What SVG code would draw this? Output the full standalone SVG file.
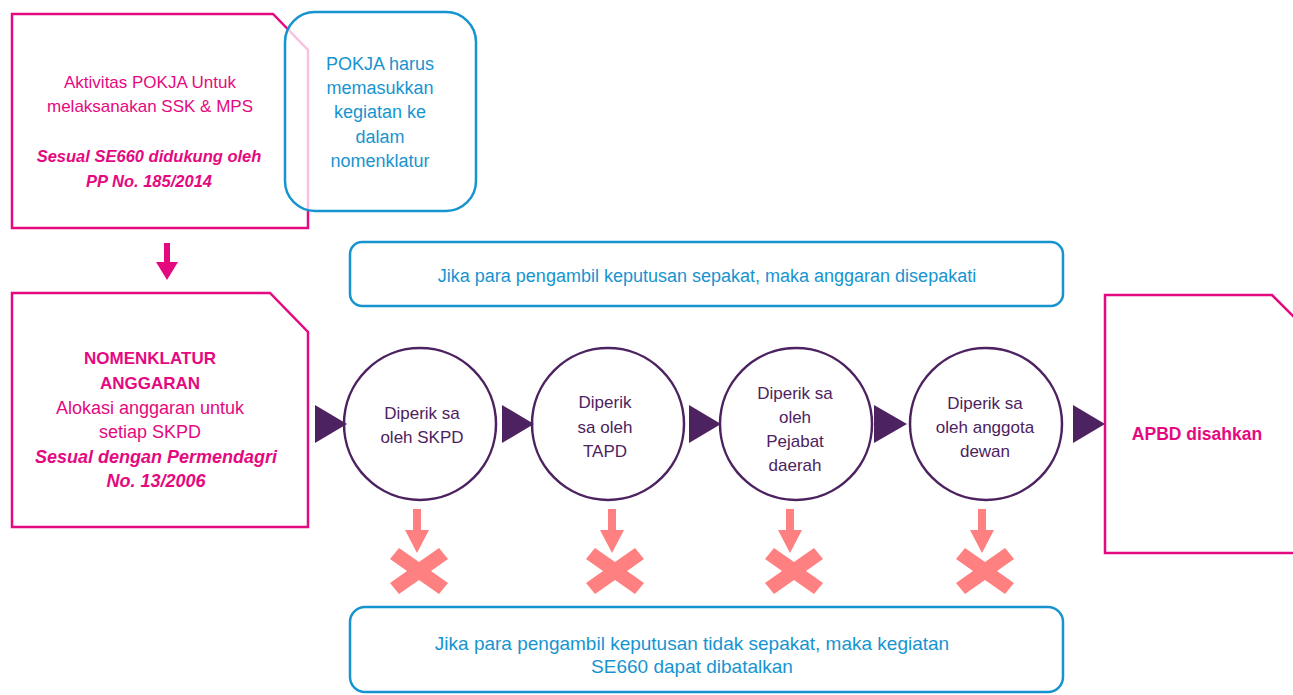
<svg xmlns="http://www.w3.org/2000/svg" width="1293" height="695" viewBox="0 0 1293 695">
<style>
text{font-family:"Liberation Sans",Arial,sans-serif;font-size:17px;text-anchor:middle;dominant-baseline:central}
.pk{fill:#E4097F}
.bl{fill:#1794D0;font-size:18px}
.pu{fill:#4D2260}
.b{font-weight:bold}
.bi{font-weight:bold;font-style:italic}
.pbox{fill:#fff;stroke:#E4097F;stroke-width:2.5}
.bbox{fill:#fff;stroke:#1794D0;stroke-width:2.5}
.circ{fill:#fff;stroke:#4D2260;stroke-width:2.5}
.tri{fill:#4D2260}
.sal{fill:#FF8080}
</style>
<g id="node-aktivitas">
<path class="pbox" d="M12,14 H273 L308,50 V228 H12 Z"/>
<text class="pk" x="150" y="82">Aktivitas POKJA Untuk</text>
<text class="pk" x="150" y="106">melaksanakan SSK &amp; MPS</text>
<text class="pk bi" x="149" y="156" style="font-size:16.5px">Sesual SE660 didukung oleh</text>
<text class="pk bi" x="149" y="181" style="font-size:16.5px">PP No. 185/2014</text>
</g>
<g id="node-pokja">
<rect class="bbox" x="285" y="12" width="191" height="199" rx="30" style="fill-opacity:0.75"/>
<text class="bl" x="380" y="64">POKJA harus</text>
<text class="bl" x="380" y="88">memasukkan</text>
<text class="bl" x="380" y="112">kegiatan ke</text>
<text class="bl" x="380" y="137">dalam</text>
<text class="bl" x="380" y="161">nomenklatur</text>
</g>
<g id="node-nomenklatur">
<path class="pbox" d="M12,293 H270 L308,332 V527 H12 Z"/>
<text class="pk b" x="150" y="358">NOMENKLATUR</text>
<text class="pk b" x="150" y="383">ANGGARAN</text>
<text class="pk" x="150" y="408" style="font-size:18px">Alokasi anggaran untuk</text>
<text class="pk" x="150" y="432" style="font-size:18px">setiap SKPD</text>
<text class="pk bi" x="156" y="457" style="font-size:18px">Sesual dengan Permendagri</text>
<text class="pk bi" x="156" y="481" style="font-size:18px">No. 13/2006</text>
</g>
<g id="node-sepakat">
<rect class="bbox" x="350" y="242" width="713" height="64" rx="12"/>
<text class="bl" x="707" y="276">Jika para pengambil keputusan sepakat, maka anggaran disepakati</text>
</g>
<g id="node-skpd">
<circle class="circ" cx="420" cy="424" r="76"/>
<text class="pu" x="422" y="413">Diperik sa</text>
<text class="pu" x="422" y="437">oleh SKPD</text>
</g>
<g id="node-tapd">
<circle class="circ" cx="608" cy="424" r="76"/>
<text class="pu" x="605" y="402">Diperik</text>
<text class="pu" x="605" y="427">sa oleh</text>
<text class="pu" x="605" y="451">TAPD</text>
</g>
<g id="node-pejabat">
<circle class="circ" cx="796" cy="424" r="76"/>
<text class="pu" x="795" y="393">Diperik sa</text>
<text class="pu" x="795" y="417">oleh</text>
<text class="pu" x="795" y="441">Pejabat</text>
<text class="pu" x="795" y="465">daerah</text>
</g>
<g id="node-dewan">
<circle class="circ" cx="986" cy="424" r="76"/>
<text class="pu" x="985" y="403">Diperik sa</text>
<text class="pu" x="985" y="427">oleh anggota</text>
<text class="pu" x="985" y="451">dewan</text>
</g>
<g id="node-apbd">
<path class="pbox" d="M1105,295 H1272 L1300,323 V553 H1105 Z"/>
<text class="pk b" x="1197" y="434" style="font-size:17.5px">APBD disahkan</text>
</g>
<g id="node-tidak-sepakat">
<rect class="bbox" x="350" y="607" width="713" height="85" rx="15"/>
<text class="bl" x="692" y="643" style="font-size:19px">Jika para pengambil keputusan tidak sepakat, maka kegiatan</text>
<text class="bl" x="692" y="666" style="font-size:19px">SE660 dapat dibatalkan</text>
</g>
<g id="connectors">
<path fill="#E4097F" d="M164,243 H170 V262 H178 L167,280 L156,262 H164 Z"/>
<path class="tri" d="M315,405 L347,424 L315,443 Z"/>
<path class="tri" d="M502,405 L534,424 L502,443 Z"/>
<path class="tri" d="M689,405 L721,424 L689,443 Z"/>
<path class="tri" d="M874,405 L907,424 L874,443 Z"/>
<path class="tri" d="M1073,405 L1105,424 L1073,443 Z"/>
<g class="sal">
<path d="M413,509 H421 V530 H429 L417,553 L405,530 H413 Z"/>
<path d="M608,509 H616 V530 H624 L612,553 L600,530 H608 Z"/>
<path d="M786,509 H794 V530 H802 L790,553 L778,530 H786 Z"/>
<path d="M978,509 H986 V530 H994 L982,553 L970,530 H978 Z"/>
</g>
<g class="sal" id="crosses">
<path transform="translate(419,571)" d="M-20,-23 L0,-9 L20,-23 L29,-12 L12,0 L29,12 L20,23 L0,9 L-20,23 L-29,12 L-12,0 L-29,-12 Z"/>
<path transform="translate(615,571)" d="M-20,-23 L0,-9 L20,-23 L29,-12 L12,0 L29,12 L20,23 L0,9 L-20,23 L-29,12 L-12,0 L-29,-12 Z"/>
<path transform="translate(794,571)" d="M-20,-23 L0,-9 L20,-23 L29,-12 L12,0 L29,12 L20,23 L0,9 L-20,23 L-29,12 L-12,0 L-29,-12 Z"/>
<path transform="translate(985,571)" d="M-20,-23 L0,-9 L20,-23 L29,-12 L12,0 L29,12 L20,23 L0,9 L-20,23 L-29,12 L-12,0 L-29,-12 Z"/>
</g>
</g>
</svg>
